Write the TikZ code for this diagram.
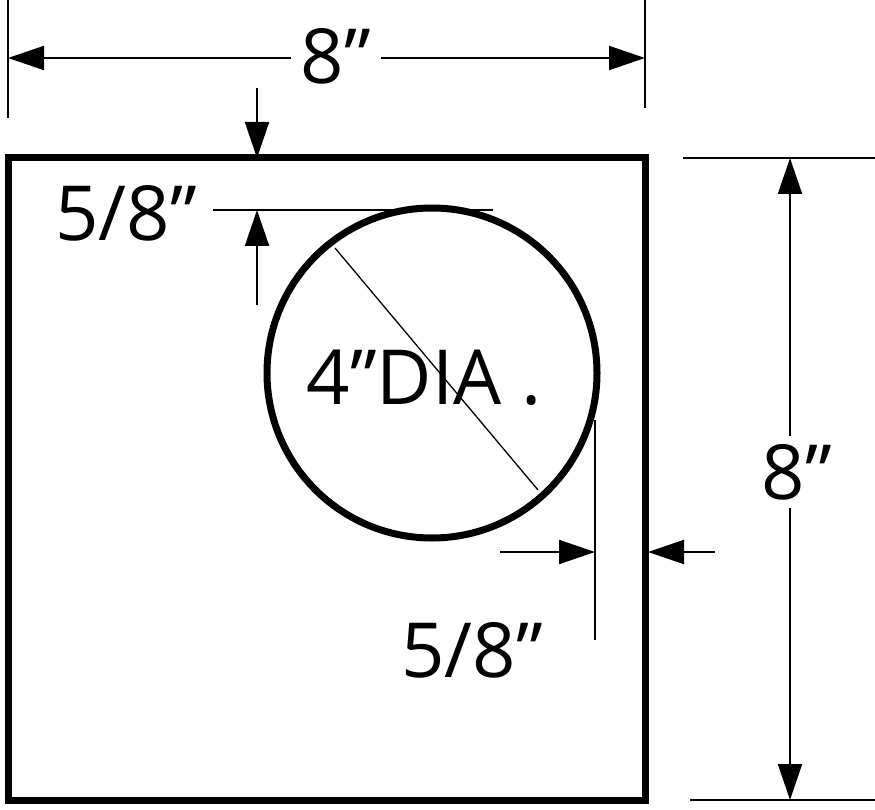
\documentclass[tikz,border=0pt]{standalone}
\usepackage{fontspec}
\setmainfont{Open Sans}
\usetikzlibrary{arrows.meta}
\begin{document}
\begin{tikzpicture}[x=1pt,y=-1pt,
  thick line/.style={line width=7pt},
  dim/.style={line width=2pt},
  arr/.style={dim,-{Triangle[length=36pt,width=24pt]}},
  darr/.style={dim,{Triangle[length=36pt,width=24pt]}-{Triangle[length=36pt,width=24pt]}},
  big/.style={font=\fontsize{76}{76}\selectfont,inner sep=0pt},
  lbl/.style={big,fill=white,inner xsep=10pt}]
\useasboundingbox (0,0) rectangle (875,810);
% square
\draw[thick line] (8,158) rectangle (645,800);
% circle
\node[draw,circle,line width=7pt,minimum size=330pt,inner sep=0pt] (c) at (432,373) {};
\coordinate (d1) at (335,248); \coordinate (d2) at (538,490);
\draw[line width=1.3pt] (d1) -- (d2);
\node[big] (dia) at (424,378) {4”DIA .};
% top dimension
\coordinate (t1a) at (8,0); \coordinate (t1b) at (8,118);
\coordinate (t2a) at (645,0); \coordinate (t2b) at (645,108);
\draw[dim] (t1a) -- (t1b); \draw[dim] (t2a) -- (t2b);
\coordinate (tl) at (8,58); \coordinate (tr) at (645,58);
\draw[darr] (tl) -- (tr);
\node[lbl] (top) at (336,56) {8”};
% right dimension
\coordinate (r1a) at (683,158); \coordinate (r1b) at (875,158);
\coordinate (r2a) at (690,800); \coordinate (r2b) at (875,800);
\draw[dim] (r1a) -- (r1b); \draw[dim] (r2a) -- (r2b);
\coordinate (rt) at (790,158); \coordinate (rb) at (790,800);
\draw[darr] (rt) -- (rb);
\node[lbl,inner ysep=8pt,inner xsep=4pt] (right) at (797,472) {8”};
% top 5/8
\coordinate (a1) at (257,88); \coordinate (a2) at (257,158);
\draw[arr] (a1) -- (a2);
\coordinate (h1) at (213,210); \coordinate (h2) at (493,210);
\draw[dim] (h1) -- (h2);
\coordinate (b1) at (257,305); \coordinate (b2) at (257,210);
\draw[arr] (b1) -- (b2);
\node[big] (lt) at (126,213) {5/8”};
% right 5/8
\coordinate (v1) at (595,420); \coordinate (v2) at (595,640);
\draw[dim] (v1) -- (v2);
\coordinate (e1) at (500,552); \coordinate (e2) at (595,552);
\draw[arr] (e1) -- (e2);
\coordinate (f1) at (715,552); \coordinate (f2) at (648,552);
\draw[arr] (f1) -- (f2);
\node[big] (lb) at (472,650) {5/8”};
\end{tikzpicture}
\end{document}
